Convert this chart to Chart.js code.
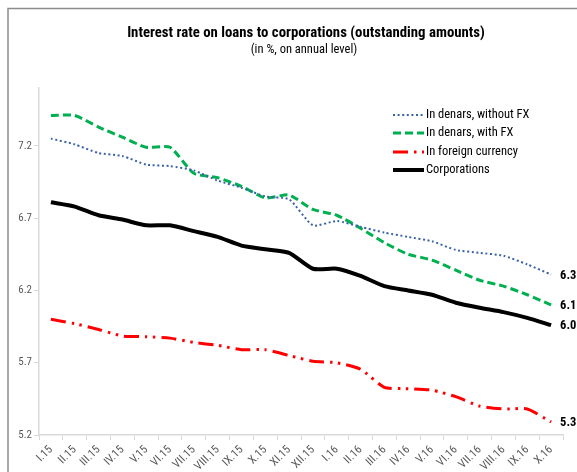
<!DOCTYPE html>
<html><head><meta charset="utf-8">
<script src="https://cdn.jsdelivr.net/npm/chart.js@4.4.0/dist/chart.umd.min.js"></script>
<style>html,body{margin:0;padding:0;background:#fff}#wrap{width:577px;height:472px;position:relative}</style>
</head><body><div id="wrap"><canvas id="c" width="577" height="472"></canvas></div>
<script>
const FONT = "'Liberation Sans Narrow', 'Roboto Condensed', 'Liberation Sans', sans-serif";
const titleText = "Interest rate on loans to corporations (outstanding amounts)";
const subtitleText = "(in %, on annual level)";
const categories = ["I.15","II.15","III.15","IV.15","V.15","VI.15","VII.15","VIII.15","IX.15","X.15","XI.15","XII.15","I.16","II.16","III.16","IV.16","V.16","VI.16","VII.16","VIII.16","IX.16","X.16"];
const yTicks = [5.2, 5.7, 6.2, 6.7, 7.2];
const seriesNames = ["In denars, without FX","In denars, with FX","In foreign currency","Corporations"];
const denarsNoFX = [7.25,7.21,7.15,7.13,7.07,7.06,7.03,6.96,6.91,6.85,6.83,6.65,6.68,6.64,6.60,6.57,6.54,6.48,6.46,6.44,6.38,6.31];
const denarsFX   = [7.41,7.41,7.33,7.26,7.19,7.19,7.01,6.98,6.92,6.84,6.86,6.76,6.72,6.63,6.53,6.45,6.41,6.34,6.27,6.23,6.17,6.10];
const foreignCur = [6.00,5.97,5.93,5.885,5.88,5.87,5.84,5.82,5.79,5.79,5.75,5.71,5.70,5.655,5.53,5.52,5.51,5.465,5.40,5.38,5.38,5.29];
const corporations = [6.81,6.78,6.72,6.69,6.65,6.65,6.61,6.57,6.51,6.485,6.46,6.35,6.35,6.30,6.23,6.20,6.17,6.115,6.08,6.05,6.01,5.96];
const endLabels = ["6.3","6.1","5.3","6.0"];

const styles = [
  {color:'#3a62a8', width:2, dash:[2,2.6]},
  {color:'#00b050', width:3, dash:[8,4]},
  {color:'#ff0000', width:3, dash:[15,6,2.5,5.5,2.5,6]},
  {color:'#000000', width:4, dash:[]}
];
const values = [denarsNoFX, denarsFX, foreignCur, corporations];

const decor = {
  id:'decor',
  beforeDraw(chart){
    const ctx = chart.ctx;
    ctx.save();
    ctx.strokeStyle = '#8c8c8c'; ctx.lineWidth = 1.5;
    ctx.beginPath(); ctx.moveTo(8, 472); ctx.lineTo(8, 8.5); ctx.lineTo(577, 8.5); ctx.stroke();
    ctx.fillStyle = '#000'; ctx.textAlign = 'center'; ctx.textBaseline = 'middle';
    ctx.font = "bold 14.8px " + FONT;
    ctx.fillText(titleText, 306, 33);
    ctx.font = "12.5px " + FONT;
    ctx.fillText(subtitleText, 304, 50);
    ctx.restore();
  },
  afterDatasetsDraw(chart){
    const ctx = chart.ctx;
    ctx.save();
    const ly = [115, 133, 152, 170];
    ctx.font = "12.5px " + FONT; ctx.textBaseline = 'middle'; ctx.textAlign = 'left'; ctx.fillStyle = '#000';
    seriesNames.forEach((n,i)=>{
      const s = styles[i];
      ctx.strokeStyle = s.color; ctx.lineWidth = s.width; ctx.setLineDash(s.dash);
      ctx.beginPath(); ctx.moveTo(393, ly[i]); ctx.lineTo(424, ly[i]); ctx.stroke();
      ctx.setLineDash([]);
      ctx.fillText(n, 426, ly[i]);
    });
    ctx.font = "bold 12.5px " + FONT;
    chart.data.datasets.forEach((ds,i)=>{
      const meta = chart.getDatasetMeta(i);
      const p = meta.data[meta.data.length-1];
      ctx.fillText(endLabels[i], p.x + 9, p.y + 1);
    });
    ctx.restore();
  }
};

new Chart(document.getElementById('c'), {
  type:'line',
  data:{
    labels: categories,
    datasets: values.map((v,i)=>({
      label: seriesNames[i], data: v,
      borderColor: styles[i].color, borderWidth: styles[i].width, borderDash: styles[i].dash,
      pointRadius:0, tension:0.2, fill:false, borderCapStyle:'butt'
    }))
  },
  options:{
    responsive:false, animation:false,
    layout:{padding:{left:0, right:14, top:88, bottom:0}},
    plugins:{legend:{display:false}, tooltip:{enabled:false}},
    scales:{
      x:{
        offset:true,
        grid:{drawOnChartArea:false, drawTicks:true, tickLength:5, color:'#d9d9d9', offset:true},
        border:{color:'#d9d9d9', width:1.5},
        ticks:{color:'#595959', font:{family:FONT, size:11.5}, maxRotation:45, minRotation:45, autoSkip:false, padding:3},
        afterFit(s){ s.height = 37; }
      },
      y:{
        min:5.2, max:7.6,
        afterBuildTicks(s){ s.ticks = yTicks.map(v=>({value:v})); },
        grid:{drawOnChartArea:false, drawTicks:true, tickLength:5, color:'#d9d9d9'},
        border:{color:'#d9d9d9', width:1.5},
        ticks:{color:'#595959', font:{family:FONT, size:11}, padding:2, callback:v=>v.toFixed(1)},
        afterFit(s){ s.width = 39; }
      }
    }
  },
  plugins:[decor]
});
</script></body></html>
